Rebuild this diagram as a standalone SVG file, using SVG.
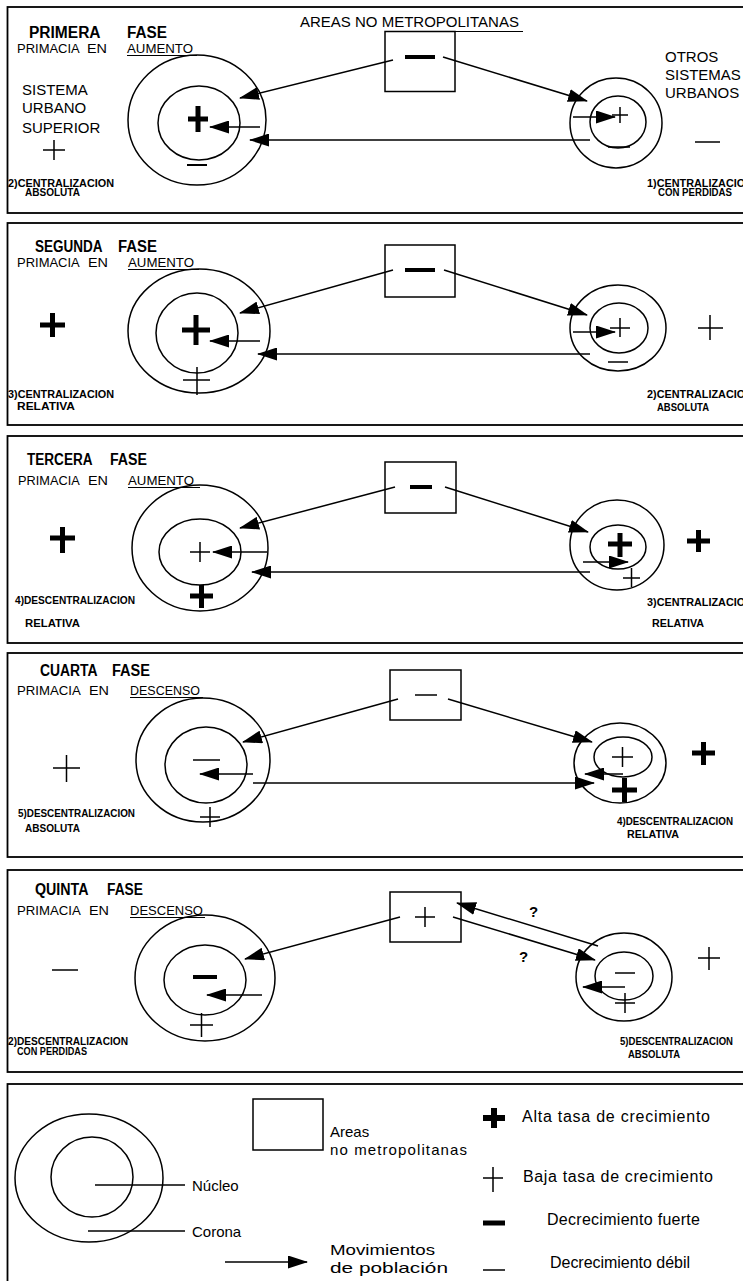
<svg xmlns="http://www.w3.org/2000/svg" width="743" height="1281" viewBox="0 0 743 1281">
<style>
text{font-family:"Liberation Sans",Arial,sans-serif;fill:#000}
.ti{font-size:16px;font-weight:bold}
.su{font-size:13.5px}
.bg{font-size:15px}
.lb{font-size:10px;font-weight:bold}
.lg{font-size:16px}
.q{font-size:15px;font-weight:bold}
.pn{fill:none;stroke:#000;stroke-width:1.8}
.c{fill:none;stroke:#000;stroke-width:1.5}
.bx{fill:none;stroke:#000;stroke-width:1.5}
.thk{fill:none;stroke:#000;stroke-width:5}
.thn{fill:none;stroke:#000;stroke-width:1.5}
.mk{fill:none;stroke:#000;stroke-width:4}
.ul{stroke:#000;stroke-width:1.2}
.ar{fill:none;stroke:#000;stroke-width:1.5;marker-end:url(#ah)}
</style>
<defs>
<marker id="ah" markerUnits="userSpaceOnUse" markerWidth="20" markerHeight="13" refX="19" refY="6.5" orient="auto"><path d="M0,0 L20,6.5 L0,13 z" fill="#000"/></marker>
</defs>
<rect width="743" height="1281" fill="#fff"/>

<!-- panel frames -->
<g id="frames">
<rect class="pn" x="7.5" y="7" width="750" height="206"/>
<rect class="pn" x="7.5" y="223" width="750" height="202"/>
<rect class="pn" x="7.5" y="436" width="750" height="207"/>
<rect class="pn" x="7.5" y="653" width="750" height="204"/>
<rect class="pn" x="7.5" y="870" width="750" height="202"/>
<rect class="pn" x="7.5" y="1084" width="750" height="210"/>
</g>

<!-- ===== PANEL 1 ===== -->
<g id="p1-title">
<text class="ti" x="29" y="38"><tspan textLength="71" lengthAdjust="spacingAndGlyphs">PRIMERA</tspan> <tspan x="127" textLength="40" lengthAdjust="spacingAndGlyphs">FASE</tspan></text>
<text class="su" y="53"><tspan x="17" textLength="62" lengthAdjust="spacingAndGlyphs">PRIMACIA</tspan> <tspan x="87" textLength="20" lengthAdjust="spacingAndGlyphs">EN</tspan> <tspan x="127" textLength="66" lengthAdjust="spacingAndGlyphs">AUMENTO</tspan></text>
<line class="ul" x1="127" y1="55.5" x2="197" y2="55.5"/>
</g>
<g id="p1-header">
<text class="bg" x="300" y="27">AREAS NO METROPOLITANAS</text>
<line class="ul" x1="385" y1="31.5" x2="523" y2="31.5"/>
</g>
<g id="p1-sus-label">
<text class="bg" x="22" y="95">SISTEMA</text>
<text class="bg" x="22" y="113">URBANO</text>
<text class="bg" x="22" y="133">SUPERIOR</text>
<path class="thn" d="M43,150H65M54,140V160"/>
<text class="lb" x="8" y="187" textLength="106" lengthAdjust="spacingAndGlyphs">2)CENTRALIZACION</text>
<text class="lb" x="25" y="195.5" textLength="55" lengthAdjust="spacingAndGlyphs">ABSOLUTA</text>
</g>
<g id="p1-sus">
<ellipse class="c" cx="197" cy="120" rx="69" ry="65"/>
<ellipse class="c" cx="199" cy="123" rx="41" ry="37"/>
<path class="thk" d="M188,119H208M198,106V132"/>
<path class="thn" d="M187,165H207" style="stroke-width:2"/>
</g>
<g id="p1-anm">
<rect class="bx" x="385" y="31.5" width="70" height="60"/>
<path class="mk" d="M405,57H435"/>
</g>
<g id="p1-osu">
<ellipse class="c" cx="616" cy="123" rx="46" ry="45"/>
<ellipse class="c" cx="618" cy="122" rx="28" ry="26"/>
<path class="thn" d="M612,115H628M620,107V123"/>
<path class="thn" d="M608,147H630"/>
</g>
<g id="p1-osu-label">
<text class="bg" x="665" y="62">OTROS</text>
<text class="bg" x="665" y="80">SISTEMAS</text>
<text class="bg" x="665" y="98">URBANOS</text>
<path class="thn" d="M695,142H720"/>
<text class="lb" x="647" y="187" textLength="106" lengthAdjust="spacingAndGlyphs">1)CENTRALIZACION</text>
<text class="lb" x="658" y="195.5" textLength="74" lengthAdjust="spacingAndGlyphs">CON PERDIDAS</text>
</g>

<!-- ===== PANEL 2 ===== -->
<g id="p2-title">
<text class="ti" x="35" y="252"><tspan textLength="67" lengthAdjust="spacingAndGlyphs">SEGUNDA</tspan> <tspan x="118" textLength="39" lengthAdjust="spacingAndGlyphs">FASE</tspan></text>
<text class="su" y="267"><tspan x="17" textLength="62" lengthAdjust="spacingAndGlyphs">PRIMACIA</tspan> <tspan x="88" textLength="20" lengthAdjust="spacingAndGlyphs">EN</tspan> <tspan x="128" textLength="66" lengthAdjust="spacingAndGlyphs">AUMENTO</tspan></text>
<line class="ul" x1="128" y1="269.5" x2="199" y2="269.5"/>
</g>
<g id="p2-sus-label">
<path class="thk" d="M40,325H65M52.5,313V337"/>
<text class="lb" x="8" y="398" textLength="106" lengthAdjust="spacingAndGlyphs">3)CENTRALIZACION</text>
<text class="lb" x="17" y="410" textLength="58" lengthAdjust="spacingAndGlyphs">RELATIVA</text>
</g>
<g id="p2-sus">
<ellipse class="c" cx="199" cy="331" rx="71" ry="62"/>
<ellipse class="c" cx="197" cy="333" rx="41" ry="40"/>
<path class="thk" d="M182,330H210M196,315V345"/>
<path class="thn" d="M183,380H210M197,367V395"/>
</g>
<g id="p2-anm">
<rect class="bx" x="385" y="245" width="70" height="52"/>
<path class="mk" d="M405,270H435"/>
</g>
<g id="p2-osu">
<ellipse class="c" cx="618" cy="328" rx="48" ry="43"/>
<ellipse class="c" cx="619" cy="328" rx="29" ry="25"/>
<path class="thn" d="M610,328H630M620,318V337"/>
<path class="thn" d="M608,362H628"/>
</g>
<g id="p2-osu-label">
<path class="thn" d="M698,328H723M710,315V340"/>
<text class="lb" x="647" y="398" textLength="106" lengthAdjust="spacingAndGlyphs">2)CENTRALIZACION</text>
<text class="lb" x="657" y="411" textLength="52" lengthAdjust="spacingAndGlyphs">ABSOLUTA</text>
</g>

<!-- ===== PANEL 3 ===== -->
<g id="p3-title">
<text class="ti" x="27" y="465"><tspan textLength="65" lengthAdjust="spacingAndGlyphs">TERCERA</tspan> <tspan x="110" textLength="37" lengthAdjust="spacingAndGlyphs">FASE</tspan></text>
<text class="su" y="485"><tspan x="18" textLength="61" lengthAdjust="spacingAndGlyphs">PRIMACIA</tspan> <tspan x="88" textLength="20" lengthAdjust="spacingAndGlyphs">EN</tspan> <tspan x="128" textLength="66" lengthAdjust="spacingAndGlyphs">AUMENTO</tspan></text>
<line class="ul" x1="128" y1="487.5" x2="200" y2="487.5"/>
</g>
<g id="p3-sus-label">
<path class="thk" d="M50,538H75M62.5,527V553"/>
<text class="lb" x="15" y="604" textLength="120" lengthAdjust="spacingAndGlyphs">4)DESCENTRALIZACION</text>
<text class="lb" x="25" y="627" textLength="55" lengthAdjust="spacingAndGlyphs">RELATIVA</text>
</g>
<g id="p3-sus">
<ellipse class="c" cx="200" cy="548" rx="68" ry="63"/>
<ellipse class="c" cx="200" cy="552" rx="41" ry="33"/>
<path class="thn" d="M190,552H210M200,542V562"/>
<path class="thk" d="M190,596H213M201.5,585V608"/>
</g>
<g id="p3-anm">
<rect class="bx" x="385" y="462" width="71" height="51"/>
<path class="mk" d="M410,487H432"/>
</g>
<g id="p3-osu">
<ellipse class="c" cx="617" cy="545" rx="47" ry="45"/>
<ellipse class="c" cx="618" cy="547" rx="28" ry="22"/>
<path class="thk" d="M608,544H632M620,533V557"/>
<path class="thn" d="M623,578H640M631.5,568V587"/>
</g>
<g id="p3-osu-label">
<path class="thk" d="M687,541H710M698.5,530V552"/>
<text class="lb" x="647" y="606" textLength="106" lengthAdjust="spacingAndGlyphs">3)CENTRALIZACION</text>
<text class="lb" x="652" y="627" textLength="52" lengthAdjust="spacingAndGlyphs">RELATIVA</text>
</g>

<!-- ===== PANEL 4 ===== -->
<g id="p4-title">
<text class="ti" x="40" y="676"><tspan textLength="57" lengthAdjust="spacingAndGlyphs">CUARTA</tspan> <tspan x="112" textLength="38" lengthAdjust="spacingAndGlyphs">FASE</tspan></text>
<text class="su" y="695"><tspan x="17" textLength="63" lengthAdjust="spacingAndGlyphs">PRIMACIA</tspan> <tspan x="89" textLength="20" lengthAdjust="spacingAndGlyphs">EN</tspan> <tspan x="130" textLength="70" lengthAdjust="spacingAndGlyphs">DESCENSO</tspan></text>
<line class="ul" x1="130" y1="697.5" x2="203" y2="697.5"/>
</g>
<g id="p4-sus-label">
<path class="thn" d="M53,768H80M66.5,755V782"/>
<text class="lb" x="18" y="817" textLength="117" lengthAdjust="spacingAndGlyphs">5)DESCENTRALIZACION</text>
<text class="lb" x="25" y="832" textLength="55" lengthAdjust="spacingAndGlyphs">ABSOLUTA</text>
</g>
<g id="p4-sus">
<ellipse class="c" cx="203" cy="760" rx="67" ry="62"/>
<ellipse class="c" cx="206" cy="765" rx="41" ry="38"/>
<path class="thn" d="M193,760H220"/>
<path class="thn" d="M200,817H220M210,807V827"/>
</g>
<g id="p4-anm">
<rect class="bx" x="390" y="670" width="71" height="50"/>
<path class="thn" d="M415,695H437"/>
</g>
<g id="p4-osu">
<ellipse class="c" cx="620" cy="763" rx="46" ry="40"/>
<ellipse class="c" cx="623" cy="757" rx="29" ry="20"/>
<path class="thn" d="M612,757H633M622.5,747V767"/>
<path class="thk" d="M612,790H637M624.5,778V802"/>
</g>
<g id="p4-osu-label">
<path class="thk" d="M692,753H715M703.5,742V765"/>
<text class="lb" x="617" y="825" textLength="116" lengthAdjust="spacingAndGlyphs">4)DESCENTRALIZACION</text>
<text class="lb" x="627" y="838" textLength="52" lengthAdjust="spacingAndGlyphs">RELATIVA</text>
</g>

<!-- ===== PANEL 5 ===== -->
<g id="p5-title">
<text class="ti" x="35" y="895"><tspan textLength="53" lengthAdjust="spacingAndGlyphs">QUINTA</tspan> <tspan x="107" textLength="36" lengthAdjust="spacingAndGlyphs">FASE</tspan></text>
<text class="su" y="915"><tspan x="17" textLength="63" lengthAdjust="spacingAndGlyphs">PRIMACIA</tspan> <tspan x="89" textLength="20" lengthAdjust="spacingAndGlyphs">EN</tspan> <tspan x="130" textLength="73" lengthAdjust="spacingAndGlyphs">DESCENSO</tspan></text>
<line class="ul" x1="130" y1="917.5" x2="205" y2="917.5"/>
</g>
<g id="p5-sus-label">
<path class="thn" d="M52,970H78"/>
<text class="lb" x="8" y="1045" textLength="120" lengthAdjust="spacingAndGlyphs">2)DESCENTRALIZACION</text>
<text class="lb" x="17" y="1055" textLength="70" lengthAdjust="spacingAndGlyphs">CON PERDIDAS</text>
</g>
<g id="p5-sus">
<ellipse class="c" cx="205" cy="978" rx="70" ry="63"/>
<ellipse class="c" cx="205" cy="980" rx="41" ry="35"/>
<path class="mk" d="M193,977H217"/>
<path class="thn" d="M190,1025H213M201.5,1013V1037"/>
</g>
<g id="p5-anm">
<rect class="bx" x="390" y="892" width="71" height="50"/>
<path class="thn" d="M415,917H435M425,907V927"/>
</g>
<g id="p5-osu">
<ellipse class="c" cx="624" cy="977" rx="48" ry="44"/>
<ellipse class="c" cx="624" cy="976" rx="29" ry="24"/>
<path class="thn" d="M615,973H635"/>
<path class="thn" d="M615,1003H635M625,993V1013"/>
</g>
<g id="p5-osu-label">
<path class="thn" d="M698,958H720M709,947V970"/>
<text class="lb" x="620" y="1045" textLength="113" lengthAdjust="spacingAndGlyphs">5)DESCENTRALIZACION</text>
<text class="lb" x="628" y="1058" textLength="52" lengthAdjust="spacingAndGlyphs">ABSOLUTA</text>
</g>
<g id="p5-q">
<text class="q" x="529" y="917">?</text>
<text class="q" x="519" y="962">?</text>
</g>

<!-- ===== LEGEND ===== -->
<g id="lg-circle">
<ellipse class="c" cx="89" cy="1178" rx="74" ry="64"/>
<ellipse class="c" cx="92" cy="1177" rx="41" ry="40"/>
<line class="ul" x1="95" y1="1185" x2="185" y2="1185" style="stroke-width:1.5"/>
<text class="bg" x="192" y="1191">Núcleo</text>
<line class="ul" x1="88" y1="1231" x2="185" y2="1231" style="stroke-width:1.5"/>
<text class="bg" x="192" y="1237">Corona</text>
</g>
<g id="lg-box">
<rect class="bx" x="253" y="1099" width="70" height="51"/>
<text class="bg" x="330" y="1137">Areas</text>
<text class="bg" x="330" y="1155" textLength="137" lengthAdjust="spacing">no metropolitanas</text>
</g>
<g id="lg-arrow">
<text class="bg" x="330" y="1255" textLength="105" lengthAdjust="spacingAndGlyphs">Movimientos</text>
<text class="bg" x="330" y="1273" textLength="118" lengthAdjust="spacingAndGlyphs">de población</text>
</g>
<g id="lg-signs">
<path class="thk" d="M483,1118H505M494,1108V1128" style="stroke-width:6"/>
<text class="lg" x="522" y="1122" textLength="188" lengthAdjust="spacing">Alta tasa de crecimiento</text>
<path class="thn" d="M483,1178H503M493,1167V1192"/>
<text class="lg" x="523" y="1182" textLength="190" lengthAdjust="spacing">Baja tasa de crecimiento</text>
<path class="thk" d="M483,1223H505"/>
<text class="lg" x="547" y="1225" textLength="153" lengthAdjust="spacing">Decrecimiento fuerte</text>
<path class="thn" d="M483,1270H505"/>
<text class="lg" x="550" y="1268" textLength="140" lengthAdjust="spacing">Decrecimiento débil</text>
</g>

<!-- ===== CONNECTORS ===== -->
<g id="connectors">
<line class="ar" x1="393" y1="60" x2="240" y2="98"/>
<line class="ar" x1="443" y1="57" x2="587" y2="101"/>
<line class="ar" x1="590" y1="140" x2="250" y2="140"/>
<line class="ar" x1="260" y1="127" x2="210" y2="127"/>
<line class="ar" x1="573" y1="117" x2="615" y2="117"/>

<line class="ar" x1="393" y1="270" x2="240" y2="313"/>
<line class="ar" x1="444" y1="270" x2="587" y2="315"/>
<line class="ar" x1="590" y1="354" x2="258" y2="354"/>
<line class="ar" x1="260" y1="341" x2="210" y2="341"/>
<line class="ar" x1="573" y1="332" x2="615" y2="332"/>

<line class="ar" x1="395" y1="487" x2="240" y2="528"/>
<line class="ar" x1="445" y1="487" x2="588" y2="532"/>
<line class="ar" x1="590" y1="572" x2="252" y2="572"/>
<line class="ar" x1="267" y1="552" x2="213" y2="552"/>
<line class="ar" x1="583" y1="562" x2="628" y2="562"/>

<line class="ar" x1="398" y1="699" x2="243" y2="742"/>
<line class="ar" x1="448" y1="699" x2="592" y2="742"/>
<line class="ar" x1="253" y1="783" x2="594" y2="783"/>
<line class="ar" x1="253" y1="774" x2="200" y2="774"/>
<line class="ar" x1="623" y1="774" x2="585" y2="774"/>

<line class="ar" x1="400" y1="917" x2="245" y2="959"/>
<line class="ar" x1="453" y1="917" x2="595" y2="960"/>
<line class="ar" x1="598" y1="946" x2="457" y2="903"/>
<line class="ar" x1="262" y1="995" x2="207" y2="995"/>
<line class="ar" x1="625" y1="987" x2="583" y2="987"/>

<line class="ar" x1="225" y1="1262" x2="307" y2="1262"/>
</g>
</svg>
